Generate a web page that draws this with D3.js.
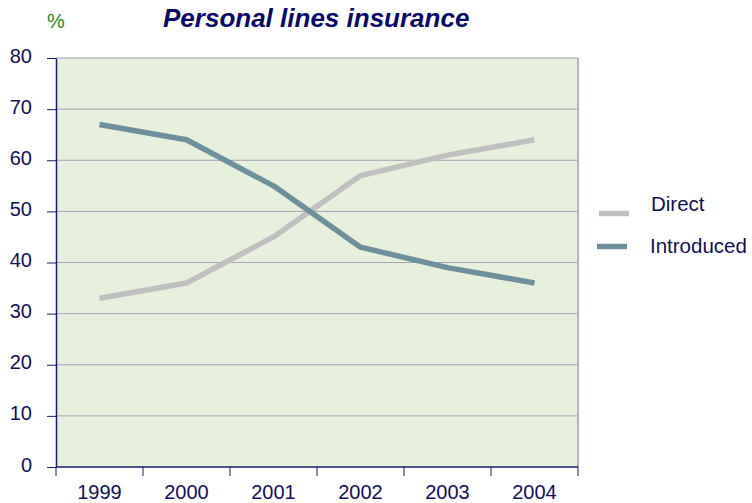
<!DOCTYPE html>
<html>
<head>
<meta charset="utf-8">
<script src="https://cdn.jsdelivr.net/npm/d3@7"></script>
<style>
  html, body { margin: 0; padding: 0; background: #ffffff; }
  svg { display: block; font-family: "Liberation Sans", Arial, sans-serif; }
</style>
</head>
<body>
<svg id="chart" width="752" height="503"></svg>
<script>
const years = ["1999", "2000", "2001", "2002", "2003", "2004"];
const direct = [33, 36, 45, 57, 61, 64];
const introduced = [67, 64, 55, 43, 39, 36];
const yTicks = [0, 10, 20, 30, 40, 50, 60, 70, 80];
const seriesNames = ["Direct", "Introduced"];
const seriesColors = ["#c0c0c0", "#6e909c"];

const svg = d3.select("#chart");
const plotLeft = 56, plotRight = 578, plotTop = 58, plotBottom = 467;
const labelFont = "'Liberation Sans', Arial, sans-serif";

const x = d3.scaleBand().domain(years).range([plotLeft, plotRight]).padding(0);
const y = d3.scaleLinear().domain([0, 80]).range([plotBottom, plotTop]);

// plot background
svg.append("rect")
  .attr("x", plotLeft).attr("y", plotTop)
  .attr("width", plotRight - plotLeft).attr("height", plotBottom - plotTop)
  .attr("fill", "#e7efdd");

// horizontal gridlines
svg.append("g").selectAll("line")
  .data(yTicks.filter(d => d > 0))
  .join("line")
  .attr("x1", plotLeft).attr("x2", plotRight)
  .attr("y1", d => y(d)).attr("y2", d => y(d))
  .attr("stroke", "#a4a4b4").attr("stroke-width", 1);

// right border
svg.append("line")
  .attr("x1", plotRight).attr("x2", plotRight)
  .attr("y1", plotTop).attr("y2", plotBottom)
  .attr("stroke", "#b4b4b4").attr("stroke-width", 2);

// y axis
const yAxis = svg.append("g")
  .attr("transform", `translate(${plotLeft},0)`)
  .call(d3.axisLeft(y).tickValues(yTicks).tickSize(9).tickPadding(15).tickSizeOuter(0));
yAxis.select(".domain").attr("stroke", "#1a1a70").attr("stroke-width", 1.5);
yAxis.selectAll(".tick line").attr("stroke", "#1a1a70");
yAxis.selectAll(".tick text")
  .attr("fill", "#10105e").attr("font-size", 20)
  .attr("font-family", labelFont)
  .attr("dy", "0.2em");

// x axis with ticks at band boundaries
const xAxis = svg.append("g")
  .attr("transform", `translate(0,${plotBottom})`)
  .call(d3.axisBottom(x).tickSize(0).tickPadding(0));
xAxis.select(".domain").remove();
xAxis.selectAll(".tick text")
  .attr("fill", "#10105e").attr("font-size", 20)
  .attr("font-family", labelFont)
  .attr("y", 32).attr("dy", null);
xAxis.append("line")
  .attr("x1", plotLeft).attr("x2", plotRight).attr("y1", 0).attr("y2", 0)
  .attr("stroke", "#1a1a70").attr("stroke-width", 1.5);
xAxis.selectAll(".bound")
  .data(years.map(d => x(d)).concat([plotRight]))
  .join("line")
  .attr("class", "bound")
  .attr("x1", d => d).attr("x2", d => d)
  .attr("y1", 0).attr("y2", 9)
  .attr("stroke", "#1a1a70").attr("stroke-width", 1);

// series lines
const line = d3.line()
  .x((d, i) => x(years[i]) + x.bandwidth() / 2)
  .y(d => y(d));

[direct, introduced].forEach((vals, k) => {
  svg.append("path")
    .datum(vals)
    .attr("d", line)
    .attr("fill", "none")
    .attr("stroke", seriesColors[k])
    .attr("stroke-width", 5.5)
    .attr("stroke-linejoin", "round");
});

// legend
const legend = svg.append("g");
const legendRows = [
  { x1: 599, x2: 629, lineY: 213.5, textX: 651, textY: 211 },
  { x1: 597, x2: 627, lineY: 246.5, textX: 650, textY: 253 }
];
seriesNames.forEach((name, k) => {
  const r = legendRows[k];
  legend.append("line")
    .attr("x1", r.x1).attr("x2", r.x2)
    .attr("y1", r.lineY).attr("y2", r.lineY)
    .attr("stroke", seriesColors[k]).attr("stroke-width", 5.5);
  legend.append("text")
    .attr("x", r.textX).attr("y", r.textY)
    .attr("fill", "#10105e").attr("font-size", 20.5)
    .text(name);
});

// title and unit label
svg.append("text")
  .attr("x", 163).attr("y", 27)
  .attr("fill", "#0a0a6a").attr("font-size", 26)
  .attr("font-weight", "bold").attr("font-style", "italic")
  .text("Personal lines insurance");

svg.append("text")
  .attr("x", 47).attr("y", 28)
  .attr("fill", "#1f8a1f").attr("font-size", 20)
  .text("%");
</script>
</body>
</html>
